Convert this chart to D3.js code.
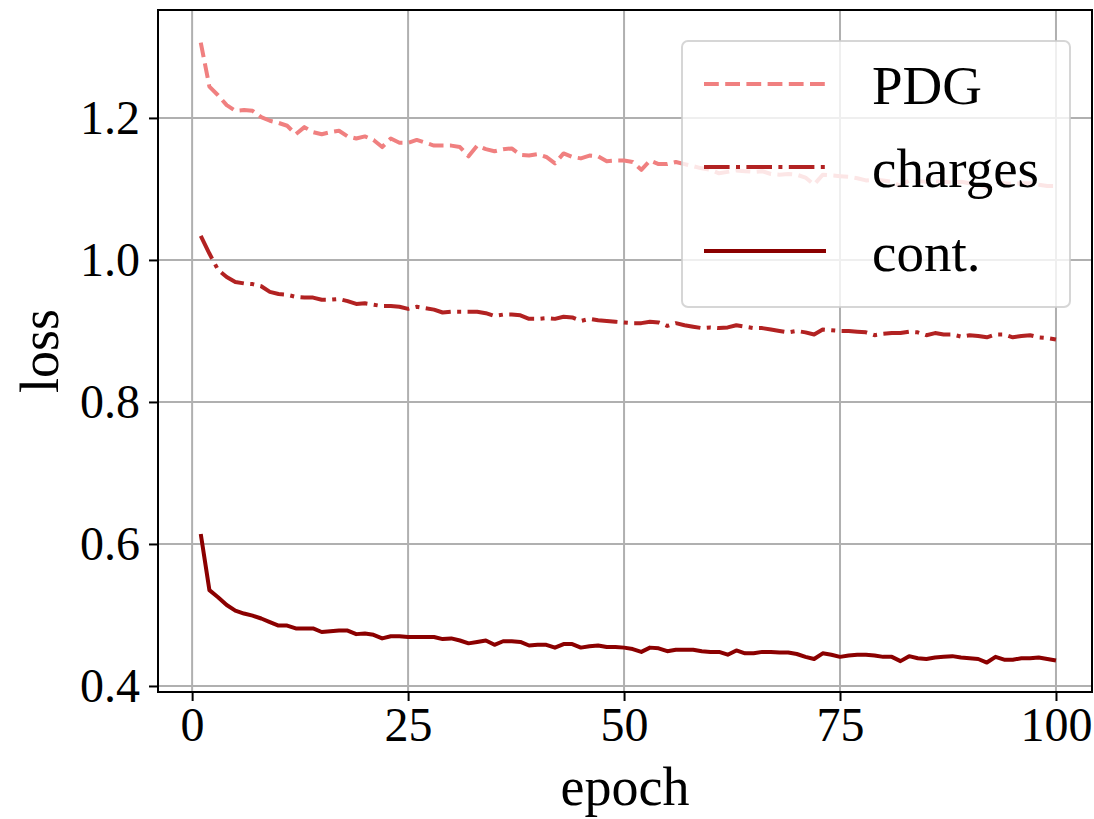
<!DOCTYPE html>
<html>
<head>
<meta charset="utf-8">
<script src="https://cdn.jsdelivr.net/npm/d3@7"></script>
<style>
  html, body { margin: 0; padding: 0; background: #ffffff; }
  svg { display: block; }
  text { font-family: "Liberation Serif", "DejaVu Serif", serif; fill: #000; }
</style>
</head>
<body>
<svg id="chart" width="1094" height="819"></svg>
<script>
// Training loss per epoch for the three output heads
const epochs = d3.range(1, 101);

const pdgLoss = [
  1.306, 1.244, 1.232, 1.218, 1.210, 1.211, 1.210, 1.201, 1.196, 1.193,
  1.189, 1.177, 1.187, 1.180, 1.177, 1.180, 1.182, 1.174, 1.171, 1.174,
  1.169, 1.159, 1.171, 1.165, 1.165, 1.169, 1.165, 1.161, 1.161, 1.161,
  1.159, 1.146, 1.161, 1.156, 1.153, 1.156, 1.157, 1.148, 1.147, 1.149,
  1.145, 1.136, 1.150, 1.145, 1.143, 1.147, 1.146, 1.139, 1.140, 1.140,
  1.138, 1.127, 1.140, 1.135, 1.135, 1.138, 1.135, 1.132, 1.129, 1.127,
  1.122, 1.124, 1.126, 1.125, 1.124, 1.125, 1.121, 1.120, 1.121, 1.120,
  1.116, 1.106, 1.120, 1.119, 1.118, 1.117, 1.115, 1.112, 1.113, 1.112,
  1.110, 1.104, 1.112, 1.111, 1.110, 1.111, 1.110, 1.109, 1.110, 1.108,
  1.107, 1.101, 1.110, 1.108, 1.107, 1.108, 1.108, 1.106, 1.104, 1.104
];

const chargesLoss = [
  1.034, 1.009, 0.986, 0.976, 0.969, 0.967, 0.966, 0.963, 0.955, 0.952,
  0.951, 0.948, 0.947, 0.947, 0.944, 0.944, 0.945, 0.942, 0.938, 0.939,
  0.937, 0.935, 0.935, 0.934, 0.931, 0.934, 0.932, 0.930, 0.926, 0.927,
  0.927, 0.927, 0.927, 0.925, 0.921, 0.923, 0.923, 0.922, 0.917, 0.917,
  0.918, 0.917, 0.920, 0.919, 0.914, 0.917, 0.915, 0.914, 0.913, 0.912,
  0.911, 0.911, 0.913, 0.912, 0.907, 0.911, 0.908, 0.906, 0.904, 0.905,
  0.904, 0.905, 0.908, 0.906, 0.904, 0.904, 0.902, 0.900, 0.898, 0.900,
  0.898, 0.895, 0.902, 0.901, 0.900, 0.900, 0.899, 0.898, 0.894, 0.896,
  0.897, 0.897, 0.899, 0.898, 0.894, 0.897, 0.895, 0.895, 0.892, 0.894,
  0.893, 0.891, 0.895, 0.895, 0.891, 0.893, 0.894, 0.891, 0.890, 0.888
];

const contLoss = [
  0.614, 0.535, 0.525, 0.514, 0.506, 0.502, 0.499, 0.495, 0.490, 0.485,
  0.485, 0.481, 0.481, 0.481, 0.476, 0.477, 0.478, 0.478, 0.473, 0.474,
  0.472, 0.467, 0.470, 0.470, 0.469, 0.469, 0.469, 0.469, 0.466, 0.467,
  0.464, 0.460, 0.462, 0.464, 0.458, 0.463, 0.463, 0.462, 0.457, 0.458,
  0.458, 0.454, 0.459, 0.459, 0.454, 0.456, 0.457, 0.455, 0.455, 0.454,
  0.452, 0.448, 0.454, 0.453, 0.449, 0.451, 0.451, 0.451, 0.449, 0.448,
  0.448, 0.444, 0.450, 0.446, 0.446, 0.448, 0.448, 0.447, 0.447, 0.445,
  0.441, 0.438, 0.446, 0.444, 0.441, 0.443, 0.444, 0.444, 0.443, 0.441,
  0.441, 0.435, 0.442, 0.439, 0.438, 0.440, 0.441, 0.442, 0.440, 0.439,
  0.438, 0.433, 0.441, 0.437, 0.437, 0.439, 0.439, 0.440, 0.438, 0.436
];

const seriesNames = ["PDG", "charges", "cont."];
const xTicks = [0, 25, 50, 75, 100];
const yTicks = [0.4, 0.6, 0.8, 1.0, 1.2];

// Series styling: colour and dash pattern (scaled by a 4px line width)
const lw = 4;
const series = [
  { name: seriesNames[0], values: pdgLoss,     color: "#f08080", dash: [3.7 * lw, 1.6 * lw] },
  { name: seriesNames[1], values: chargesLoss, color: "#b22222", dash: [6.4 * lw, 1.6 * lw, 1 * lw, 1.6 * lw] },
  { name: seriesNames[2], values: contLoss,    color: "#8b0000", dash: null }
];

const svg = d3.select("#chart");
const plot = { left: 158, right: 1092, top: 10, bottom: 692 };

const x = d3.scaleLinear().domain([-3.95, 104.17]).range([plot.left, plot.right]);
const y = d3.scaleLinear().domain([0.3915, 1.352]).range([plot.bottom, plot.top]);

const gridColor = "#b0b0b0";
const spineW = 2;

// Grid lines
const grid = svg.append("g");
grid.selectAll("line.vx").data(xTicks).join("line")
  .attr("x1", d => x(d)).attr("x2", d => x(d))
  .attr("y1", plot.top).attr("y2", plot.bottom)
  .attr("stroke", gridColor).attr("stroke-width", spineW);
grid.selectAll("line.hy").data(yTicks).join("line")
  .attr("x1", plot.left).attr("x2", plot.right)
  .attr("y1", d => y(d)).attr("y2", d => y(d))
  .attr("stroke", gridColor).attr("stroke-width", spineW);

// Loss curves
const line = d3.line().x((d, i) => x(epochs[i])).y(d => y(d));
svg.append("g").selectAll("path").data(series).join("path")
  .attr("d", d => line(d.values))
  .attr("fill", "none")
  .attr("stroke", d => d.color)
  .attr("stroke-width", lw)
  .attr("stroke-linejoin", "round")
  .attr("stroke-linecap", "butt")
  .attr("stroke-dasharray", d => d.dash ? d.dash.join(",") : null);

// Axes
const tickFont = 48;
const xAxis = d3.axisBottom(x).tickValues(xTicks).tickFormat(d3.format("d"))
  .tickSize(9).tickPadding(6);
const yAxis = d3.axisLeft(y).tickValues(yTicks).tickFormat(d3.format(".1f"))
  .tickSize(9).tickPadding(9);

const gx = svg.append("g").attr("transform", `translate(0,${plot.bottom})`).call(xAxis);
const gy = svg.append("g").attr("transform", `translate(${plot.left},0)`).call(yAxis);
[gx, gy].forEach(g => {
  g.select(".domain").remove();
  g.selectAll(".tick line").attr("stroke", "#000").attr("stroke-width", spineW);
  g.selectAll(".tick text").attr("font-size", tickFont)
    .attr("font-family", "Liberation Serif, DejaVu Serif, serif").attr("fill", "#000");
});
gx.selectAll(".tick text").attr("dy", "0.71em");

// Frame
svg.append("rect")
  .attr("x", plot.left).attr("y", plot.top)
  .attr("width", plot.right - plot.left).attr("height", plot.bottom - plot.top)
  .attr("fill", "none").attr("stroke", "#000").attr("stroke-width", spineW);

// Axis labels
const labelFont = 54;
svg.append("text")
  .attr("x", (plot.left + plot.right) / 2).attr("y", 805)
  .attr("text-anchor", "middle").attr("font-size", labelFont)
  .text("epoch");
svg.append("text")
  .attr("transform", `translate(58,${(plot.top + plot.bottom) / 2}) rotate(-90)`)
  .attr("text-anchor", "middle").attr("font-size", labelFont)
  .text("loss");

// Legend
const legendFont = 55;
const legend = svg.append("g");
legend.append("rect")
  .attr("x", 682).attr("y", 41).attr("width", 388).attr("height", 266)
  .attr("rx", 6).attr("ry", 6)
  .attr("fill", "#ffffff").attr("fill-opacity", 0.8)
  .attr("stroke", "#cccccc").attr("stroke-opacity", 0.8).attr("stroke-width", 2);
const rowY = [84, 167, 251];
const rows = legend.selectAll("g.row").data(series).join("g")
  .attr("transform", (d, i) => `translate(0,${rowY[i]})`);
rows.append("line")
  .attr("x1", 704).attr("x2", 826).attr("y1", 0).attr("y2", 0)
  .attr("stroke", d => d.color).attr("stroke-width", lw)
  .attr("stroke-dasharray", d => d.dash ? d.dash.join(",") : null);
rows.append("text")
  .attr("x", 872).attr("y", 0).attr("dy", "0.36em")
  .attr("font-size", legendFont)
  .text(d => d.name);
</script>
</body>
</html>
